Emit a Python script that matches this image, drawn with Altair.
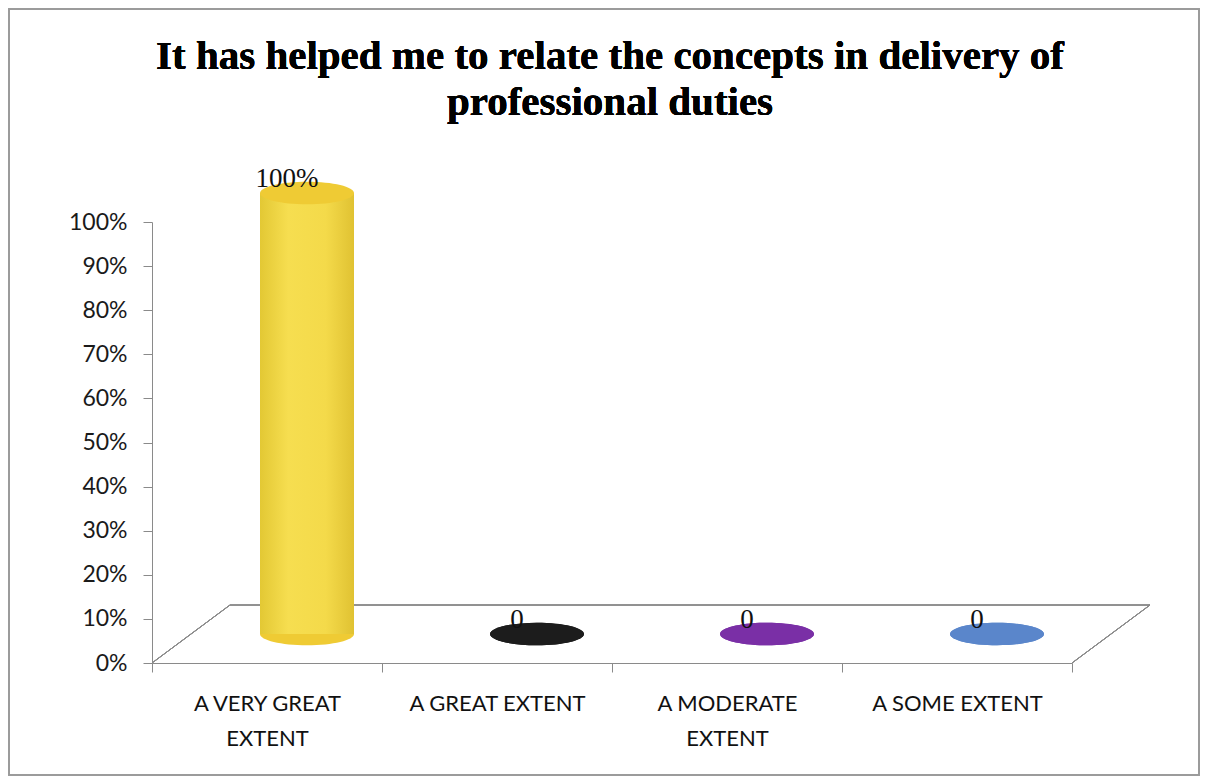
import altair as alt
import pandas as pd

title_lines = ["It has helped me to relate the concepts in delivery of", "professional duties"]
categories = ["A VERY GREAT EXTENT", "A GREAT EXTENT", "A MODERATE EXTENT", "A SOME EXTENT"]
values = [100, 0, 0, 0]
value_labels = ["100%", "0", "0", "0"]
y_ticks = [0, 10, 20, 30, 40, 50, 60, 70, 80, 90, 100]

base_colors = ["#EFCB34", "#1C1C1C", "#7A2FA6", "#5A86CB"]
cap_colors = ["#EFD862", "#1C1C1C", "#7A2FA6", "#5A86CB"]

df = pd.DataFrame({"category": categories, "value": values, "label": value_labels})

W, H = 920, 441
PAD_L, PAD_T, PAD_R, PAD_B = 144, 214, 128, 113
DX, DY = 40, 29          # 3D depth shift of the bars
FX, FY = 78, 58          # floor depth
BAR_W = 94

ellipse = "M -1 0 A 1 0.24 0 1 1 1 0 A 1 0.24 0 1 1 -1 0 Z"

x_enc = alt.X(
    "category:N",
    sort=categories,
    scale=alt.Scale(domain=categories, paddingInner=0, paddingOuter=0),
    axis=alt.Axis(
        title=None,
        labelAngle=0,
        labelFont="Lato",
        labelFontSize=22,
        labelColor="#111111",
        labelPadding=21,
        labelLineHeight=35,
        labelBaseline="top",
        labelExpr="datum.value == 'A VERY GREAT EXTENT' ? ['A VERY GREAT', 'EXTENT'] : "
                  "datum.value == 'A MODERATE EXTENT' ? ['A MODERATE', 'EXTENT'] : datum.value",
        tickBand="extent",
        tickSize=9,
        tickColor="#8a8a8a",
        domainColor="#8a8a8a",
        labelOverlap=False,
    ),
)

y_enc = alt.Y(
    "value:Q",
    scale=alt.Scale(domain=[0, 100]),
    axis=alt.Axis(
        title=None,
        values=y_ticks,
        labelExpr="datum.value + '%'",
        labelFont="Lato",
        labelFontSize=23,
        labelColor="#1a1a1a",
        labelPadding=16,
        tickSize=9,
        tickColor="#8a8a8a",
        domainColor="#8a8a8a",
        grid=False,
    ),
)

color_base = alt.Color("category:N", scale=alt.Scale(domain=categories, range=base_colors), legend=None)
color_cap = alt.Color("category:N", scale=alt.Scale(domain=categories, range=cap_colors), legend=None)

base = alt.Chart(df)

# outer frame of the picture
frame = base.mark_rect(fill=None, stroke="#9a9a9a", strokeWidth=1.5).encode(
    x=alt.value(-PAD_L + 1), x2=alt.value(W + PAD_R - 1),
    y=alt.value(-PAD_T + 1), y2=alt.value(H + PAD_B - 1),
)

# chart title (two lines, bold serif)
title = base.mark_text(
    text=title_lines, font="Liberation Serif", fontSize=41, fontWeight="bold",
    color="#000000", align="center", baseline="alphabetic", lineHeight=46,
).encode(x=alt.value(W / 2 - 2), y=alt.value(-153))

# floor of the 3D plot
floor_back = base.mark_rule(color="#8a8a8a", strokeWidth=1).encode(
    x=alt.value(FX), x2=alt.value(W + FX), y=alt.value(H - FY)
)
floor_left = base.mark_rule(color="#8a8a8a", strokeWidth=1).encode(
    x=alt.value(0), x2=alt.value(FX), y=alt.value(H), y2=alt.value(H - FY)
)
floor_right = base.mark_rule(color="#8a8a8a", strokeWidth=1).encode(
    x=alt.value(W), x2=alt.value(W + FX), y=alt.value(H), y2=alt.value(H - FY)
)

base_ell = base.mark_point(
    shape=ellipse, size=BAR_W * BAR_W, filled=True, opacity=1, strokeWidth=0,
    xOffset=DX, yOffset=-DY,
).encode(x=x_enc, y=alt.Y("zero:Q", scale=alt.Scale(domain=[0, 100])), color=color_base).transform_calculate(zero="0")

bars = base.mark_bar(
    size=BAR_W, xOffset=DX, yOffset=-DY, y2Offset=-DY,
    color=alt.Gradient(
        gradient="linear",
        stops=[
            alt.GradientStop(color="#E3C834", offset=0),
            alt.GradientStop(color="#F6DE50", offset=0.3),
            alt.GradientStop(color="#F4DA4A", offset=0.7),
            alt.GradientStop(color="#E0C232", offset=1),
        ],
        x1=0, x2=1, y1=0, y2=0,
    ),
).encode(x=x_enc, y=y_enc)

cap_ell = base.mark_point(
    shape=ellipse, size=BAR_W * BAR_W, filled=True, opacity=1, strokeWidth=0,
    xOffset=DX, yOffset=-DY,
).encode(x=x_enc, y=y_enc, color=color_cap)

texts = base.mark_text(
    font="Liberation Serif", fontSize=27, color="#111111",
    xOffset=DX - 20, dy=-DY - 6, baseline="alphabetic", align="center",
).encode(x=x_enc, y=y_enc, text="label:N")

chart = alt.layer(
    frame, title, floor_back, floor_left, floor_right, base_ell, bars, cap_ell, texts
).properties(
    width=W,
    height=H,
    background="white",
    autosize=alt.AutoSizeParams(type="none"),
    padding={"left": PAD_L, "top": PAD_T, "right": PAD_R, "bottom": PAD_B},
).configure_view(stroke=None)

chart.save("out.html", embed_options={"renderer": "svg", "actions": False})
